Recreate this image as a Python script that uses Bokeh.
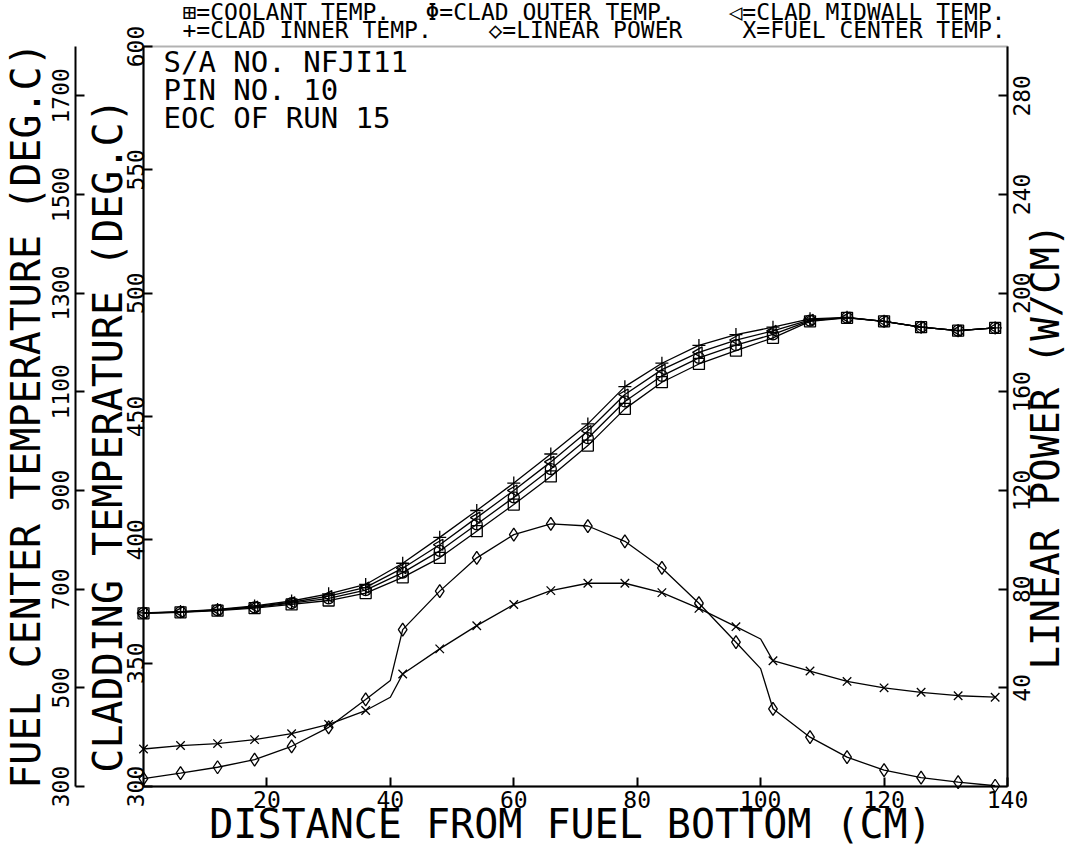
import math
from bokeh.plotting import figure
from bokeh.models import Range1d, LinearAxis, FixedTicker, Label, BoxAnnotation, ColumnDataSource
from bokeh.core.properties import value
from bokeh.embed import file_html
from bokeh.resources import INLINE

# ---------------- data ----------------
distance_cm = [0, 6, 12, 18, 24, 30, 36, 42, 48, 54, 60, 66,
               72, 78, 84, 90, 96, 102, 108, 114, 120, 126, 132, 138]
coolant_temp = [370.2, 370.6, 371.3, 372.3, 373.8, 375.4, 378.4, 384.8, 392.7, 403.5, 414.3, 425.7,
                438.2, 453.1, 463.9, 471.3, 476.7, 481.9, 488.6, 490.0, 488.6, 486.2, 484.8, 485.9]
clad_outer_temp = [370.3, 370.7, 371.5, 372.6, 374.3, 376.3, 379.6, 386.7, 395.5, 406.3, 417.2, 428.7,
                   441.2, 456.1, 466.5, 473.8, 478.9, 483.3, 488.9, 490.1, 488.6, 486.2, 484.8, 485.9]
clad_midwall_temp = [370.3, 370.8, 371.6, 372.9, 374.7, 377.2, 380.7, 388.5, 398.0, 409.0, 420.0, 431.6,
                     444.1, 458.9, 469.0, 476.0, 481.0, 484.7, 489.2, 490.1, 488.6, 486.2, 484.8, 485.9]
clad_inner_temp = [370.4, 370.9, 371.8, 373.2, 375.2, 378.1, 381.9, 390.5, 401.0, 411.9, 423.0, 434.8,
                   447.0, 462.1, 471.6, 478.8, 483.2, 486.2, 489.6, 490.2, 488.6, 486.2, 484.8, 485.9]

# axial profile incl. the fuel/blanket interface points (40 and 100 cm, drawn without marker)
profile_cm = [0, 6, 12, 18, 24, 30, 36, 40, 42, 48, 54, 60, 66,
              72, 78, 84, 90, 96, 100, 102, 108, 114, 120, 126, 132, 138]
linear_power = [3.2, 5.4, 7.8, 10.9, 16.3, 24.0, 35.3, 43.0, 63.6, 79.2, 92.7, 102.1, 106.5,
                105.6, 99.4, 88.6, 74.3, 58.5, 47.8, 31.5, 20.0, 11.9, 6.6, 3.6, 1.8, 0.3]
fuel_center_temp = [376, 383, 387, 395, 407, 426, 454, 481, 528, 579, 626, 669, 697,
                    712, 712, 693, 661, 624, 599, 555, 534, 513, 500, 491, 484, 481]
interface_cm = [40, 100]

dist_ticks = [20, 40, 60, 80, 100, 120, 140]
clad_ticks = [300, 350, 400, 450, 500, 550, 600]
fuel_ticks = [300, 500, 700, 900, 1100, 1300, 1500, 1700]
power_ticks = [40, 80, 120, 160, 200, 240, 280]

legend_rows = [
    ["\u229e=COOLANT TEMP.", "\u03a6=CLAD OUTER TEMP.", "\u25c1=CLAD MIDWALL TEMP."],
    ["+=CLAD INNER TEMP.", "\u25c7=LINEAR POWER", "X=FUEL CENTER TEMP."],
]
info_lines = ["S/A NO. NFJI11", "PIN NO. 10", "EOC OF RUN 15"]

# ---------------- layout (pixels) ----------------
W, H = 1068, 849
AXIS_X, FRAME_R, FRAME_T, FRAME_B = 143, 1007, 46, 786
FUEL_AXIS_X = 75
X_MAX = 140
CLAD_MIN, CLAD_MAX = 300, 600
FUEL_MIN, FUEL_MAX = 300, 1800
POWER_MIN, POWER_MAX = 0, 300
PX_PER_CM = (FRAME_R - AXIS_X) / X_MAX
PX_PER_DEG = (FRAME_B - FRAME_T) / (CLAD_MAX - CLAD_MIN)
FUEL_PER_CLAD = (FUEL_MAX - FUEL_MIN) / (CLAD_MAX - CLAD_MIN)
POWER_PER_CLAD = (POWER_MAX - POWER_MIN) / (CLAD_MAX - CLAD_MIN)
FONT = "DejaVu Sans Mono"


def sx(px):  # screen x -> distance axis units
    return (px - AXIS_X) / PX_PER_CM


def sy(py):  # screen y -> cladding axis units
    return CLAD_MIN + (FRAME_B - py) / PX_PER_DEG


y_lo, y_hi = sy(H), sy(0)
p = figure(width=W, height=H, x_range=Range1d(sx(0), sx(W)), y_range=Range1d(y_lo, y_hi),
           min_border=0, x_axis_location=None, y_axis_location=None, toolbar_location=None,
           output_backend="svg", outline_line_color=None)
p.background_fill_color = "white"
p.border_fill_color = "white"
p.xgrid.visible = False
p.ygrid.visible = False
p.extra_y_ranges = {
    "fuel": Range1d(FUEL_MIN + (y_lo - CLAD_MIN) * FUEL_PER_CLAD, FUEL_MIN + (y_hi - CLAD_MIN) * FUEL_PER_CLAD),
    "power": Range1d(POWER_MIN + (y_lo - CLAD_MIN) * POWER_PER_CLAD, POWER_MIN + (y_hi - CLAD_MIN) * POWER_PER_CLAD),
}


def make_axis(ticks, loc, bounds, **kw):
    ax = LinearAxis(ticker=FixedTicker(ticks=ticks), fixed_location=loc, bounds=bounds, **kw)
    ax.major_tick_in = 9
    ax.major_tick_out = 0
    ax.minor_tick_line_color = None
    ax.axis_line_width = 2
    ax.axis_line_color = "black"
    ax.major_tick_line_width = 2
    ax.major_tick_line_color = "black"
    ax.major_label_text_color = None   # tick labels are written below as text
    ax.axis_label = None
    return ax


p.add_layout(make_axis(clad_ticks, 0, (CLAD_MIN, CLAD_MAX)), "left")
p.add_layout(make_axis(fuel_ticks, sx(FUEL_AXIS_X), (FUEL_MIN, FUEL_MAX), y_range_name="fuel"), "left")
p.add_layout(make_axis(power_ticks, X_MAX, (POWER_MIN, POWER_MAX), y_range_name="power"), "right")
p.add_layout(make_axis(dist_ticks, CLAD_MIN, (0, X_MAX)), "below")

p.add_layout(BoxAnnotation(left=0, right=X_MAX, bottom=CLAD_MIN, top=CLAD_MAX,
                           fill_color=None, line_color="black", line_width=2))

# ---------------- tick labels ----------------
TICK = dict(text_font=value(FONT), text_font_size="23px", text_color="black",
            text_align="center", text_baseline="middle")
p.text(x=dist_ticks, y=[sy(799)] * len(dist_ticks), text=[str(t) for t in dist_ticks], **TICK)
p.text(x=[sx(135)] * len(clad_ticks), y=clad_ticks, text=[str(t) for t in clad_ticks],
       angle=math.pi / 2, **TICK)
p.text(x=[sx(60)] * len(fuel_ticks), y=fuel_ticks, text=[str(t) for t in fuel_ticks],
       angle=math.pi / 2, y_range_name="fuel", **TICK)
p.text(x=[sx(1021)] * len(power_ticks), y=power_ticks, text=[str(t) for t in power_ticks],
       angle=math.pi / 2, y_range_name="power", **TICK)

# ---------------- series ----------------
LW = 1.3
MK = dict(fill_color=None, line_color="black", line_width=1.3)

p.line(distance_cm, coolant_temp, line_color="black", line_width=LW)
p.scatter(distance_cm, coolant_temp, marker="square", size=11, **MK)

p.line(distance_cm, clad_outer_temp, line_color="black", line_width=LW)
p.scatter(distance_cm, clad_outer_temp, marker="circle", size=11, **MK)
p.scatter(distance_cm, clad_outer_temp, marker="dash", size=11, angle=math.pi / 2, **MK)

p.line(distance_cm, clad_midwall_temp, line_color="black", line_width=LW)
p.scatter(distance_cm, clad_midwall_temp, marker="triangle", size=11, angle=math.pi / 2, **MK)

p.line(distance_cm, clad_inner_temp, line_color="black", line_width=LW)
p.scatter(distance_cm, clad_inner_temp, marker="cross", size=13, **MK)

prof = ColumnDataSource(dict(x=profile_cm, power=linear_power, fuel=fuel_center_temp))
marked = [i for i, x in enumerate(profile_cm) if x not in interface_cm]
prof_mk = ColumnDataSource(dict(x=[profile_cm[i] for i in marked],
                                power=[linear_power[i] for i in marked],
                                fuel=[fuel_center_temp[i] for i in marked]))

p.line("x", "power", source=prof, y_range_name="power", line_color="black", line_width=LW)
p.scatter("x", "power", source=prof_mk, y_range_name="power", marker="diamond", size=13, **MK)

p.line("x", "fuel", source=prof, y_range_name="fuel", line_color="black", line_width=LW)
p.scatter("x", "fuel", source=prof_mk, y_range_name="fuel", marker="x", size=12, **MK)

# ---------------- titles, legend, annotation ----------------
TITLE = dict(text_font=FONT, text_color="black", text_baseline="middle", text_align="center")
p.add_layout(Label(x=sx(25), y=sy(415), angle=math.pi / 2, text_font_size="40px",
                   text="FUEL CENTER TEMPERATURE (DEG.C)", **TITLE))
p.add_layout(Label(x=sx(107), y=sy(435), angle=math.pi / 2, text_font_size="40px",
                   text="CLADDING TEMPERATURE (DEG.C)", **TITLE))
p.add_layout(Label(x=sx(1045), y=sy(446), angle=math.pi / 2, text_font_size="39px",
                   text="LINEAR POWER (W/CM)", **TITLE))
p.add_layout(Label(x=sx(570), y=sy(823), text_font_size="40px",
                   text="DISTANCE FROM FUEL BOTTOM (CM)", **TITLE))

legend_x = [[182, 425, 728], [182, 488, 742]]
legend_y = [11, 29]
for r, row in enumerate(legend_rows):
    for c, txt in enumerate(row):
        p.add_layout(Label(x=sx(legend_x[r][c]), y=sy(legend_y[r]), text=txt,
                           text_font=FONT, text_font_size="23px", text_color="black",
                           text_align="left", text_baseline="middle"))

info_y = [61, 89, 117]
for txt, yy in zip(info_lines, info_y):
    p.add_layout(Label(x=sx(163), y=sy(yy), text=txt, text_font=FONT, text_font_size="29px",
                       text_color="black", text_align="left", text_baseline="middle"))

open("out.html", "w").write(file_html(p, INLINE))
